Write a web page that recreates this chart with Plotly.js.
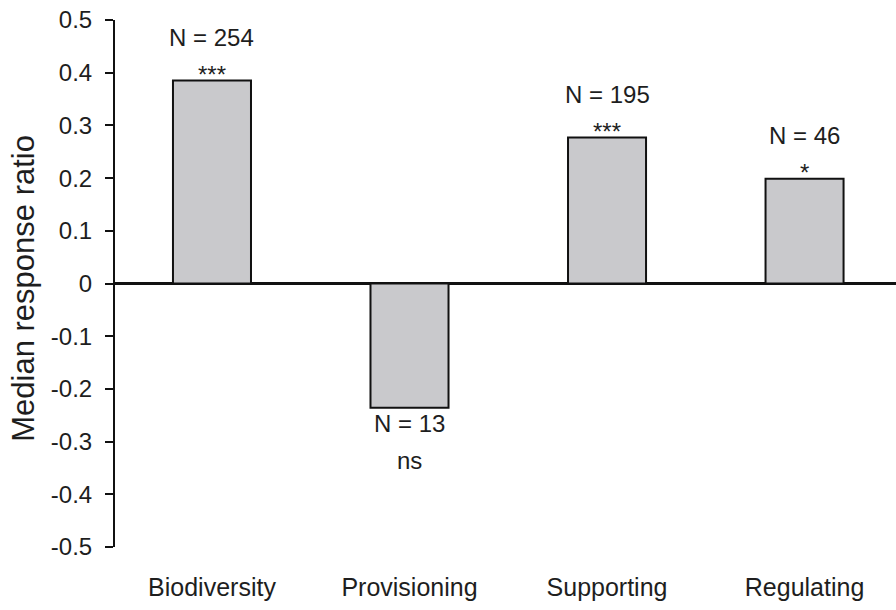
<!DOCTYPE html>
<html>
<head>
<meta charset="utf-8">
<script src="https://cdn.plot.ly/plotly-3.0.1.min.js"></script>
<style>
  html, body { margin: 0; padding: 0; background: #fff; }
  #chart { width: 896px; height: 610px; }
</style>
</head>
<body>
<div id="chart"></div>
<script>
// Ecosystem service categories and their median response ratios
const categories = ['Biodiversity', 'Provisioning', 'Supporting', 'Regulating'];
const medianRatio = [0.385, -0.236, 0.277, 0.199];
const sampleSize = ['N = 254', 'N = 13', 'N = 195', 'N = 46'];
const significance = ['***', 'ns', '***', '*'];

// Y axis ticks (plain hyphen for negatives)
const yTickVals = [0.5, 0.4, 0.3, 0.2, 0.1, 0, -0.1, -0.2, -0.3, -0.4, -0.5];
const yTickText = ['0.5', '0.4', '0.3', '0.2', '0.1', '0', '-0.1', '-0.2', '-0.3', '-0.4', '-0.5'];

const FONT = 'Liberation Sans, Arial, Helvetica, sans-serif';
const INK = '#1e1e1e';

const trace = {
  type: 'bar',
  x: categories,
  y: medianRatio,
  width: 0.395,
  marker: { color: '#c9c9cc', line: { color: '#111', width: 2 } },
  hoverinfo: 'skip'
};

// Sample size and significance labels sit above positive bars, below negative ones
const annotations = [];
categories.forEach((c, i) => {
  const v = medianRatio[i];
  const up = v >= 0;
  annotations.push({
    x: c, y: v, xref: 'x', yref: 'y',
    text: sampleSize[i], showarrow: false,
    font: { family: FONT, size: 24, color: INK },
    xanchor: 'center', yanchor: up ? 'bottom' : 'top',
    yshift: up ? 28 : 0
  });
  annotations.push({
    x: c, y: v, xref: 'x', yref: 'y',
    text: significance[i], showarrow: false,
    font: { family: FONT, size: 24, color: INK },
    xanchor: 'center', yanchor: up ? 'bottom' : 'top',
    yshift: up ? -9 : -37
  });
});

// Rotated y-axis title
annotations.push({
  x: (24 - 115) / 781, y: 0.49, xref: 'paper', yref: 'paper',
  text: 'Median response ratio', showarrow: false, textangle: -90,
  font: { family: FONT, size: 31, color: INK },
  xanchor: 'center', yanchor: 'middle'
});

const layout = {
  width: 896, height: 610,
  margin: { l: 115, r: 0, t: 20, b: 63 },
  paper_bgcolor: '#fff', plot_bgcolor: '#fff',
  showlegend: false,
  font: { family: FONT, size: 24, color: INK },
  xaxis: {
    type: 'category',
    range: [-0.491, 3.463],
    showline: false, showgrid: false, zeroline: false,
    ticks: '', ticklabelstandoff: 23,
    tickfont: { family: FONT, size: 25, color: INK },
    fixedrange: true
  },
  yaxis: {
    range: [-0.5, 0.5],
    tickvals: yTickVals, ticktext: yTickText,
    showline: true, linecolor: '#111', linewidth: 2,
    ticks: 'outside', ticklen: 8, tickwidth: 2, tickcolor: '#111',
    ticklabelstandoff: 8,
    showgrid: false,
    zeroline: true, zerolinecolor: '#111', zerolinewidth: 2.5,
    tickfont: { family: FONT, size: 24, color: INK },
    fixedrange: true
  },
  annotations: annotations
};

Plotly.newPlot('chart', [trace], layout, { displayModeBar: false, staticPlot: true });
</script>
</body>
</html>
